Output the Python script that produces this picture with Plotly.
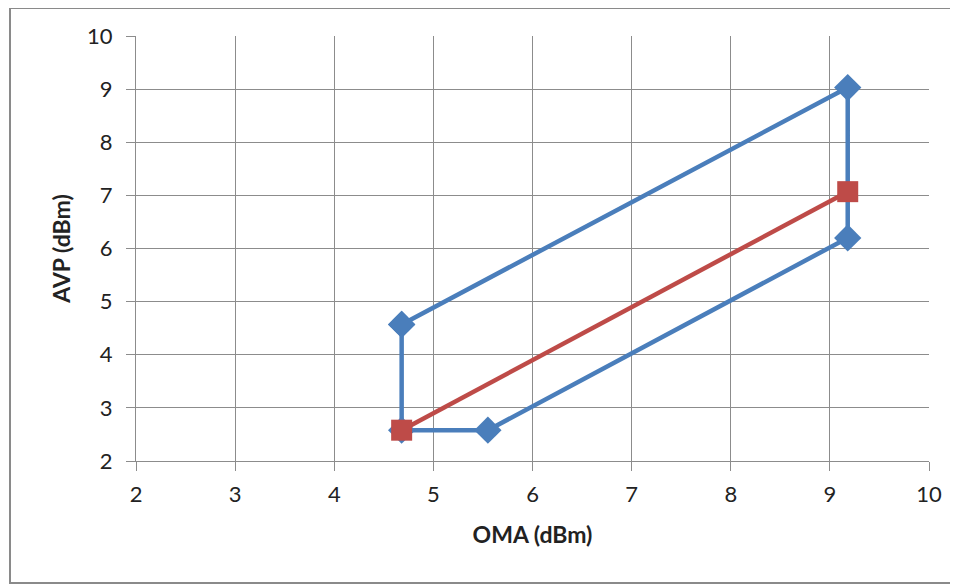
import plotly.graph_objects as go

# Data
blue_x = [4.68, 9.18, 9.18, 5.55, 4.68, 4.68]
blue_y = [4.57, 9.03, 6.20, 2.58, 2.58, 4.57]
red_x = [4.68, 9.18]
red_y = [2.58, 7.07]
x_ticks = [2, 3, 4, 5, 6, 7, 8, 9, 10]
y_ticks = [2, 3, 4, 5, 6, 7, 8, 9, 10]

BLUE = "#4A7EBB"
RED = "#BE4B48"
GRID = "#8C8C8C"
FONT = "Lato"

fig = go.Figure()
fig.add_trace(go.Scatter(
    x=blue_x, y=blue_y, mode="lines+markers",
    line=dict(color=BLUE, width=4.5),
    marker=dict(symbol="diamond", size=21, color=BLUE),
    showlegend=False, cliponaxis=False,
))
fig.add_trace(go.Scatter(
    x=red_x, y=red_y, mode="lines+markers",
    line=dict(color=RED, width=4.5),
    marker=dict(symbol="square", size=21, color=RED),
    showlegend=False, cliponaxis=False,
))

OFF = 8  # page body margin
W, H = 958 - OFF, 584 - OFF
# plot area in page pixels: x 136..929, y 36..461
L, T = 136 - OFF, 36 - OFF
R = W - (929 - OFF)
B = H - (461 - OFF)
pw, ph = W - L - R, H - T - B

def px2paper_x(px):
    return (px - OFF - L) / pw

def px2paper_y(py):
    return (H - B - (py - OFF)) / ph

fig.add_shape(type="rect", xref="paper", yref="paper",
              x0=px2paper_x(10), x1=px2paper_x(990),
              y0=px2paper_y(583), y1=px2paper_y(8),
              line=dict(color="#8A8A8A", width=2), fillcolor="rgba(0,0,0,0)",
              layer="below")

axis_common = dict(
    showgrid=True, gridcolor=GRID, gridwidth=1,
    showline=True, linecolor=GRID, linewidth=1,
    ticks="outside", ticklen=9, tickcolor=GRID, tickwidth=1,
    zeroline=False, tickfont=dict(family=FONT, size=22, color="#222222"),
    range=[2, 10], dtick=1, tick0=2, fixedrange=True,
)

fig.update_layout(
    width=W, height=H,
    margin=dict(l=L, r=R, t=T, b=B),
    paper_bgcolor="white", plot_bgcolor="white",
    xaxis=dict(**axis_common, tickvals=x_ticks, ticklabelstandoff=5,
               title=dict(text="<b>OMA (dBm)</b>", font=dict(family=FONT, size=23, color="#222222"), standoff=20)),
    yaxis=dict(**axis_common, tickvals=y_ticks, ticklabelstandoff=9,
               title=dict(text="<b>AVP (dBm)</b>", font=dict(family=FONT, size=23, color="#222222"), standoff=10)),
)

fig.write_html("out.html")
